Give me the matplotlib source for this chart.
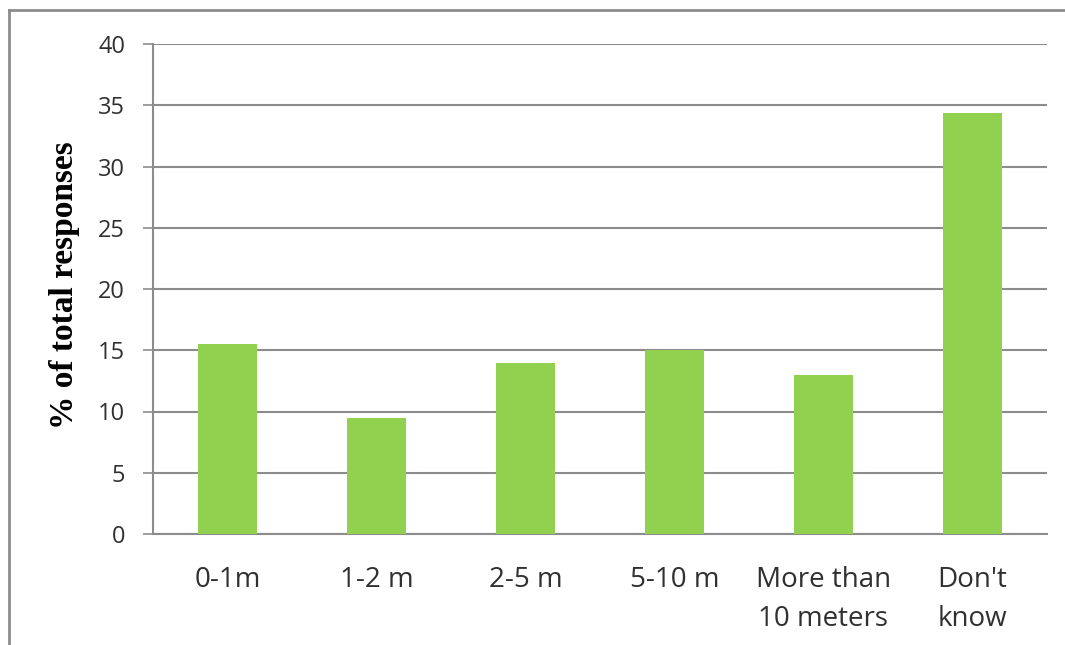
import matplotlib
matplotlib.use("Agg")
import matplotlib.pyplot as plt
from matplotlib.lines import Line2D

categories = ["0-1m", "1-2 m", "2-5 m", "5-10 m", "More than\n10 meters", "Don't\nknow"]
values = [15.5, 9.5, 14.0, 15.0, 13.0, 34.4]
yticks = [0, 5, 10, 15, 20, 25, 30, 35, 40]

fig = plt.figure(figsize=(10.65, 6.45), dpi=100)
ax = fig.add_axes([153/1065, 1-534/645, (1047-153)/1065, (534-44)/645])

x = list(range(len(categories)))
ax.bar(x, values, width=0.39, color="#92D050", zorder=3)
ax.set_xlim(-0.5, len(categories) - 0.5)
ax.set_ylim(0, 40)
ax.set_yticks(yticks)
ax.set_yticklabels([str(t) for t in yticks], fontsize=17, family="Open Sans", color="#303030")
ax.set_xticks(x)
ax.set_xticklabels(categories, fontsize=20, family="Open Sans", color="#303030",
                   linespacing=1.55, va="top")
ax.tick_params(axis="x", length=0, pad=23)
ax.tick_params(axis="y", length=7, width=1.2, color="#8c8c8c", pad=13, direction="out")
ax.yaxis.grid(True, color="#8c8c8c", linewidth=1.5, zorder=0)
ax.set_axisbelow(True)
for s in ["top", "right"]:
    ax.spines[s].set_visible(False)
for s in ["left", "bottom"]:
    ax.spines[s].set_color("#8c8c8c")
    ax.spines[s].set_linewidth(1.5)

fig.text(64.5/1065, 1-285/645, "% of total responses", rotation=90, ha="center",
         va="center", fontsize=24, family="Liberation Serif", fontweight="bold",
         color="black")

# outer border
fig.add_artist(Line2D([9/1065, 1.0], [1-10/645, 1-10/645], transform=fig.transFigure,
                      color="#8c8c8c", linewidth=2))
fig.add_artist(Line2D([9/1065, 9/1065], [0, 1-10/645], transform=fig.transFigure,
                      color="#8c8c8c", linewidth=2))

fig.savefig("out.png", dpi=100)
